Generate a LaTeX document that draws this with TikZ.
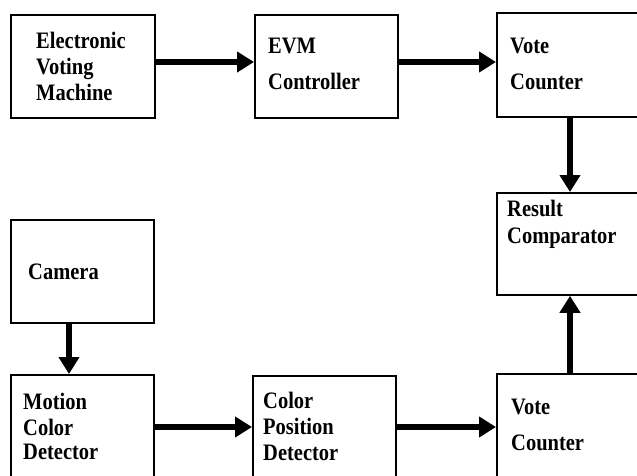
\documentclass[tikz,border=0pt]{standalone}
\usepackage{fontspec}
\usepackage{graphicx}
\setmainfont{Liberation Serif}
\usetikzlibrary{arrows.meta}
% bold serif labels, set slightly tall
\newcommand{\tallword}[1]{\scalebox{1}[1.15]{#1}}
\begin{document}
\begin{tikzpicture}[x=1pt,y=-1pt,
  box/.style={draw=black,line width=1.8pt,rectangle,inner sep=0pt,anchor=north west},
  lbl/.style={anchor=base west,inner sep=0pt,font=\fontsize{20.5}{24}\selectfont\bfseries},
  flow/.style={line width=6pt,-{Triangle[length=17pt,width=20pt]}}]
\useasboundingbox (0,0) rectangle (637,475);
\clip (0,0) rectangle (637,475);
% upper row
\node[box,minimum width=144pt,minimum height=103pt] (evm) at (10,14) {};
\node[box,minimum width=143pt,minimum height=103pt] (ctl) at (254,14) {};
\node[box,minimum width=150pt,minimum height=104pt] (vc1) at (496,12) {};
% comparator
\node[box,minimum width=150pt,minimum height=102pt] (cmp) at (496,192) {};
% lower row
\node[box,minimum width=143pt,minimum height=103pt] (cam) at (10,219) {};
\node[box,minimum width=143pt,minimum height=110pt] (mcd) at (10,374) {};
\node[box,minimum width=143pt,minimum height=110pt] (cpd) at (252,375) {};
\node[box,minimum width=150pt,minimum height=110pt] (vc2) at (496,373) {};
% labels
\node[lbl] (evm1) at (36,48) {\tallword{Electronic}};
\node[lbl] (evm2) at (36,74) {\tallword{Voting}};
\node[lbl] (evm3) at (36,100) {\tallword{Machine}};
\node[lbl] (ctl1) at (268,53) {\tallword{EVM}};
\node[lbl] (ctl2) at (268,89) {\tallword{Controller}};
\node[lbl] (vc1a) at (510,53) {\tallword{Vote}};
\node[lbl] (vc1b) at (510,89) {\tallword{Counter}};
\node[lbl] (cmp1) at (507,216) {\tallword{Result}};
\node[lbl] (cmp2) at (507,243) {\tallword{Comparator}};
\node[lbl] (cam1) at (28,279) {\tallword{Camera}};
\node[lbl] (mcd1) at (23,409) {\tallword{Motion}};
\node[lbl] (mcd2) at (23,435) {\tallword{Color}};
\node[lbl] (mcd3) at (23,459) {\tallword{Detector}};
\node[lbl] (cpd1) at (263,408) {\tallword{Color}};
\node[lbl] (cpd2) at (263,434) {\tallword{Position}};
\node[lbl] (cpd3) at (263,460) {\tallword{Detector}};
\node[lbl] (vc2a) at (511,414) {\tallword{Vote}};
\node[lbl] (vc2b) at (511,450) {\tallword{Counter}};
% connectors
\draw[flow] (evm.east |- 0,62) -- (ctl.west |- 0,62);
\draw[flow] (ctl.east |- 0,62) -- (vc1.west |- 0,62);
\draw[flow] (vc1.south -| 570,0) -- (cmp.north -| 570,0);
\draw[flow] (cam.south -| 69,0) -- (mcd.north -| 69,0);
\draw[flow] (mcd.east |- 0,427) -- (cpd.west |- 0,427);
\draw[flow] (cpd.east |- 0,427) -- (vc2.west |- 0,427);
\draw[flow] (vc2.north -| 570,0) -- (cmp.south -| 570,0);
\end{tikzpicture}
\end{document}
